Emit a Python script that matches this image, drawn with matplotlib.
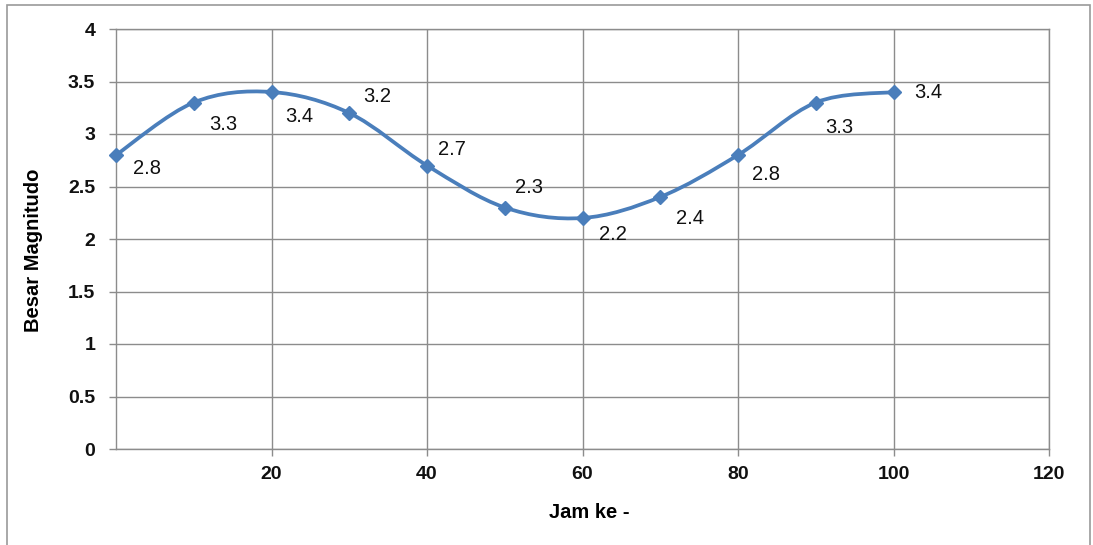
import matplotlib
matplotlib.use("Agg")
import matplotlib.pyplot as plt
from matplotlib.path import Path
from matplotlib.patches import PathPatch, Rectangle

plt.rcParams['font.family'] = ['Liberation Sans', 'DejaVu Sans']

# Data
hours = [0, 10, 20, 30, 40, 50, 60, 70, 80, 90, 100]
magnitudo = [2.8, 3.3, 3.4, 3.2, 2.7, 2.3, 2.2, 2.4, 2.8, 3.3, 3.4]
labels = ["2.8", "3.3", "3.4", "3.2", "2.7", "2.3", "2.2", "2.4", "2.8", "3.3", "3.4"]
# label offsets in pixels (dx, dy) relative to the point
label_offsets = [(31, -13), (30, -22), (28, -25), (28, 17), (25, 16), (24, 20),
                 (30, -16), (30, -21), (28, -20), (24, -25), (35, -1)]
x_ticks = [20, 40, 60, 80, 100, 120]
y_ticks = [0, 0.5, 1, 1.5, 2, 2.5, 3, 3.5, 4]
y_ticklabels = ["0", "0.5", "1", "1.5", "2", "2.5", "3", "3.5", "4"]

W, H = 1093, 545
fig = plt.figure(figsize=(W / 100, H / 100), dpi=100)
fig.patch.set_facecolor("white")

# outer chart border
fig.patches.append(Rectangle((7 / W, -0.05), (1090 - 7) / W, 1.05 - 5 / H,
                             transform=fig.transFigure, fill=False,
                             edgecolor="#9a9a9a", linewidth=1.2))

ax = fig.add_axes([116 / W, 1 - 449 / H, (1049 - 116) / W, (449 - 29) / H])
ax.set_xlim(0, 120)
ax.set_ylim(0, 4)

grid_c = "#8c8c8c"
ax.set_xticks(x_ticks)
ax.set_yticks(y_ticks)
ax.set_yticklabels(y_ticklabels)
ax.grid(True, color=grid_c, linewidth=1.0)
ax.set_axisbelow(True)
for s in ax.spines.values():
    s.set_color(grid_c)
    s.set_linewidth(1.0)
ax.tick_params(axis='both', direction='out', length=5, color=grid_c, width=1.0,
               labelsize=14, labelcolor="#111111")
ax.tick_params(axis='x', pad=7.5)
ax.tick_params(axis='y', pad=10)
for t in ax.get_xticklabels() + ax.get_yticklabels():
    t.set_fontweight('bold')

# smooth curve (Catmull-Rom style bezier through the points, like Excel smoothing)
n = len(hours)
verts = [(hours[0], magnitudo[0])]
codes = [Path.MOVETO]
for i in range(n - 1):
    p0 = (hours[max(i - 1, 0)], magnitudo[max(i - 1, 0)])
    p1 = (hours[i], magnitudo[i])
    p2 = (hours[i + 1], magnitudo[i + 1])
    p3 = (hours[min(i + 2, n - 1)], magnitudo[min(i + 2, n - 1)])
    c1 = (p1[0] + (p2[0] - p0[0]) / 6, p1[1] + (p2[1] - p0[1]) / 6)
    c2 = (p2[0] - (p3[0] - p1[0]) / 6, p2[1] - (p3[1] - p1[1]) / 6)
    verts += [c1, c2, p2]
    codes += [Path.CURVE4] * 3
ax.add_patch(PathPatch(Path(verts, codes), facecolor='none',
                       edgecolor="#4a7ebb", linewidth=2.7, capstyle='round',
                       joinstyle='round', zorder=3))
ax.plot(hours, magnitudo, linestyle='none', marker='D', markersize=7.5,
        color="#4a7ebb", zorder=4, clip_on=False)

for x, y, lab, (dx, dy) in zip(hours, magnitudo, labels, label_offsets):
    ax.annotate(lab, (x, y), xytext=(dx, dy), textcoords='offset pixels',
                ha='center', va='center', fontsize=14.5, color="#111111")

ax.set_xlabel("Jam ke -", fontsize=14.5, fontweight='bold')
ax.set_ylabel("Besar Magnitudo", fontsize=14.5, fontweight='bold')
ax.xaxis.set_label_coords((589 - 116) / (1049 - 116), -(513 - 449) / (449 - 29))
ax.xaxis.label.set_va('center')
ax.yaxis.set_label_coords(-(116 - 34) / (1049 - 116), (449 - 250) / (449 - 29))
ax.yaxis.label.set_va('center')

fig.savefig("out.png", dpi=100)
